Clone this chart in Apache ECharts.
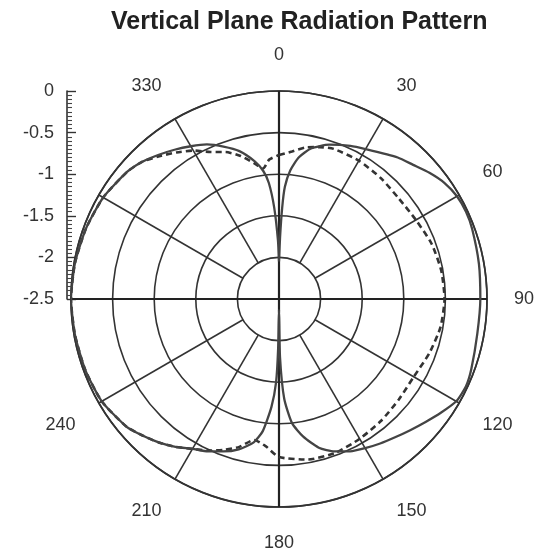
<!DOCTYPE html>
<html>
<head>
<meta charset="utf-8">
<script src="https://cdn.jsdelivr.net/npm/echarts@6/dist/echarts.min.js"></script>
<style>
  html, body { margin: 0; padding: 0; background: #fff; }
  #main { width: 537px; height: 557px; }
</style>
</head>
<body>
<div id="main"></div>
<script>
var chartDom = document.getElementById('main');
var myChart = echarts.init(chartDom);
var option;

// gain values (radius axis, 0 at the rim, -2.5 at the centre)
var solidAngles = [0, 1, 2, 3, 5, 8, 12, 18, 25, 30, 40, 45, 50, 55, 60, 65, 70, 80, 90, 100, 110, 115, 120, 125, 130, 135, 140, 145, 150, 155, 160, 165, 170, 174, 177, 179, 180, 181, 182, 184, 187, 190, 195, 200, 205, 210, 215, 220, 225, 230, 240, 250, 260, 270, 280, 290, 300, 310, 315, 320, 325, 330, 335, 340, 345, 350, 353, 355, 357, 359, 360];
var solidValues = [-2.05, -1.75, -1.4, -1.15, -0.95, -0.78, -0.65, -0.55, -0.47, -0.42, -0.28, -0.22, -0.14, -0.07, -0.03, -0.02, -0.03, -0.06, -0.08, -0.08, -0.04, -0.02, -0.04, -0.12, -0.2, -0.27, -0.33, -0.38, -0.43, -0.48, -0.55, -0.65, -0.82, -1.0, -1.3, -1.8, -2.37, -1.9, -1.5, -1.2, -0.9, -0.75, -0.63, -0.55, -0.48, -0.42, -0.33, -0.25, -0.18, -0.11, -0.04, -0.02, -0.01, 0, -0.01, -0.03, -0.06, -0.12, -0.17, -0.24, -0.31, -0.38, -0.45, -0.55, -0.66, -0.82, -0.95, -1.1, -1.4, -1.8, -2.05];

var dashedAngles = [0, 5, 10, 15, 20, 30, 40, 50, 60, 70, 80, 90, 100, 110, 120, 130, 140, 150, 160, 170, 180, 185, 190, 195, 200, 205, 210, 215, 220, 225, 230, 240, 250, 260, 270, 280, 290, 300, 310, 315, 320, 325, 330, 335, 340, 345, 350, 353, 356, 360];
var dashedValues = [-0.77, -0.72, -0.65, -0.61, -0.58, -0.58, -0.6, -0.62, -0.6, -0.55, -0.52, -0.51, -0.53, -0.58, -0.63, -0.62, -0.59, -0.56, -0.53, -0.54, -0.6, -0.72, -0.78, -0.66, -0.57, -0.49, -0.42, -0.33, -0.25, -0.18, -0.11, -0.04, -0.02, -0.01, 0, -0.01, -0.03, -0.06, -0.12, -0.17, -0.26, -0.35, -0.44, -0.55, -0.62, -0.72, -0.85, -0.92, -0.82, -0.77];

var spokeAngles = [0, 30, 60, 90, 120, 150, 180, 210, 240, 270, 300, 330];
var hiddenAngleLabels = [270, 300, 360];

var fontFamily = '"Liberation Sans", Arial, sans-serif';
var gridColor = '#333';

function toPairs(values, angles) {
  return values.map(function (v, i) { return [v, angles[i]]; });
}

var series = [];
// spokes: main axes go through the centre, the others start at the inner ring
spokeAngles.forEach(function (a) {
  var through = a % 90 === 0;
  series.push({
    type: 'line',
    coordinateSystem: 'polar',
    data: [[through ? -2.5 : -2, a], [0, a]],
    symbol: 'none',
    silent: true,
    lineStyle: { color: through ? '#222' : gridColor, width: through ? 2.2 : 1.6 },
    z: 1
  });
});

series.push({
  name: 'dashed',
  type: 'line',
  coordinateSystem: 'polar',
  data: toPairs(dashedValues, dashedAngles),
  symbol: 'none',
  smooth: 0.2,
  lineStyle: { color: '#333', width: 2.6, type: [6, 4] },
  z: 3
});

series.push({
  name: 'solid',
  type: 'line',
  coordinateSystem: 'polar',
  data: toPairs(solidValues, solidAngles),
  symbol: 'none',
  smooth: 0.2,
  lineStyle: { color: '#444', width: 2.3 },
  z: 4
});

option = {
  backgroundColor: '#fff',
  animation: false,
  title: {
    text: 'Vertical Plane Radiation Pattern',
    left: 111,
    top: 10,
    padding: 0,
    textStyle: { fontFamily: fontFamily, fontSize: 25, fontWeight: 'bold', color: '#222' }
  },
  polar: { center: [279, 299], radius: 208 },
  angleAxis: {
    type: 'value',
    min: 0,
    max: 360,
    interval: 30,
    startAngle: 90,
    clockwise: true,
    axisLine: { lineStyle: { color: gridColor, width: 1.7 } },
    axisTick: { show: false },
    splitLine: { show: false },
    axisLabel: {
      margin: 27,
      fontFamily: fontFamily,
      fontSize: 18,
      color: '#333',
      formatter: function (v) {
        return hiddenAngleLabels.indexOf(v) >= 0 ? '' : String(v);
      }
    }
  },
  radiusAxis: {
    type: 'value',
    min: -2.5,
    max: 0,
    interval: 0.5,
    axisLine: { show: false },
    axisTick: { show: false },
    axisLabel: { show: false },
    splitLine: { show: true, lineStyle: { color: gridColor, width: 1.6 } }
  },
  // the ruler on the left
  grid: { left: 67, top: 91, width: 10, height: 208 },
  xAxis: { type: 'value', show: false },
  yAxis: {
    type: 'value',
    min: -2.5,
    max: 0,
    interval: 0.5,
    position: 'left',
    axisLine: { show: true, lineStyle: { color: '#333', width: 1.6 } },
    axisTick: { show: true, inside: true, length: 9, lineStyle: { color: '#333', width: 1.4 } },
    minorTick: { show: true, splitNumber: 10, length: 5, lineStyle: { color: '#444', width: 1.1 } },
    splitLine: { show: false },
    axisLabel: { margin: 13, fontFamily: fontFamily, fontSize: 18, color: '#333' }
  },
  series: series
};

option && myChart.setOption(option);
</script>
</body>
</html>
